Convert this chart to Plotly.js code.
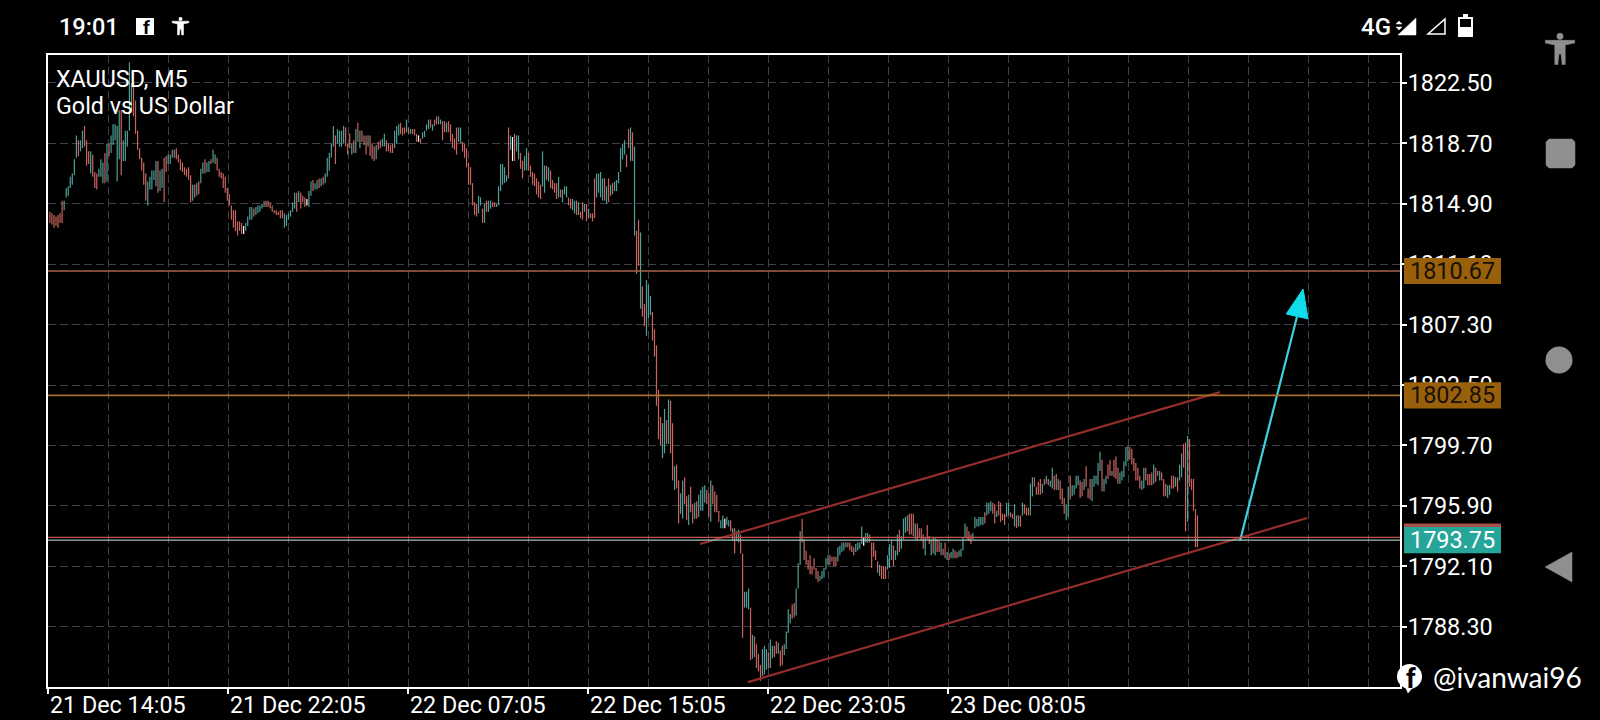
<!DOCTYPE html>
<html><head><meta charset="utf-8">
<script src="https://cdn.plot.ly/plotly-3.0.1.min.js"></script>
<style>html,body{margin:0;padding:0;background:#000}#c{width:1600px;height:720px}</style>
</head><body><div id="c"></div>
<script>
// Bars in five stretches: high, low, direction (u up, d down, w doji)
const hiA=[1814.4,1814.3,1814.2,1814.1,1814.2,1814.3,1815.1,1815.1,1815.9,1816.0,
1816.6,1816.8,1817.7,1819.2,1818.9,1818.9,1819.5,1819.8,1818.9,1818.2,
1818.2,1818.0,1816.9,1816.8,1817.1,1817.7,1817.5,1818.1,1818.7,1818.7,
1819.2,1819.9,1819.9,1819.8,1820.8,1820.8,1818.9,1819.5,1819.5,1823.8,
1822.5,1822.5,1821.4,1819.5,1818.4,1817.8,1817.5,1816.8,1816.3,1816.6,
1817.0,1817.0,1817.6,1817.6,1817.0,1817.1,1817.8,1817.9,1818.0,1818.0,
1818.3,1818.3,1818.4,1818.0,1817.7,1817.5,1817.2,1817.1,1817.2,1816.7,
1816.1,1816.1,1816.2,1816.3,1817.1,1817.5,1817.7,1817.5,1817.6,1817.7,
1818.3,1818.0,1817.8,1817.1,1816.9,1816.8,1816.6,1815.9,1815.5,1814.8,
1814.5,1814.5,1813.8,1813.8,1813.7,1813.5,1813.7,1814.1,1814.7,1814.7,
1814.6,1814.7,1814.8,1814.8,1814.9,1815.1,1815.1,1815.1,1815.0,1814.8,
1814.5,1814.5,1814.4,1814.5,1814.5,1814.3,1814.2,1814.3,1814.5,1815.0,
1815.6,1815.6,1815.7,1815.6,1815.4,1815.3,1815.2,1815.7,1816.3,1816.4,
1816.2,1816.4,1816.5,1816.5,1816.6,1816.8,1817.8,1818.1,1818.7,1819.8,
1819.2,1819.6,1819.5,1819.5,1819.8,1819.7,1818.7,1819.3,1818.7,1818.9,
1819.6,1820.0,1819.5,1819.5,1819.2,1819.2,1819.2,1819.2,1818.7,1818.5,
1818.6,1818.8,1818.9,1819.0,1819.3,1818.9,1818.7,1818.6,1818.7,1819.5,
1819.8,1819.9];
const loA=[1813.7,1813.6,1813.4,1813.5,1813.4,1813.7,1813.7,1814.5,1815.3,1815.4,
1815.9,1816.1,1816.7,1817.8,1817.9,1818.2,1818.4,1818.5,1817.3,1817.4,
1816.8,1816.6,1815.9,1815.8,1816.6,1816.6,1816.2,1816.2,1816.3,1817.9,
1818.1,1818.6,1818.9,1816.3,1817.7,1816.7,1817.6,1817.6,1818.5,1819.5,
1820.8,1820.4,1819.3,1818.3,1817.7,1817.0,1816.1,1815.1,1814.8,1815.8,
1815.8,1816.4,1816.0,1815.6,1815.7,1815.9,1815.0,1816.9,1817.4,1817.4,
1817.8,1817.8,1817.7,1817.5,1817.0,1816.9,1816.7,1816.6,1816.4,1815.0,
1815.1,1815.3,1815.4,1815.5,1816.2,1816.8,1816.8,1816.9,1816.9,1817.4,
1817.5,1817.4,1817.0,1816.6,1816.5,1815.9,1815.6,1815.1,1814.8,1813.9,
1813.4,1813.2,1812.9,1813.2,1813.0,1813.0,1813.2,1813.5,1813.9,1813.9,
1814.1,1814.2,1814.3,1814.4,1814.6,1814.7,1814.7,1814.7,1814.6,1814.4,
1814.3,1814.2,1814.2,1814.0,1814.0,1813.4,1813.5,1813.9,1814.1,1814.4,
1814.6,1814.4,1815.0,1814.6,1815.0,1814.7,1814.8,1814.7,1815.4,1815.7,
1815.8,1815.8,1815.9,1816.0,1816.1,1816.2,1816.6,1817.0,1817.8,1818.5,
1817.4,1818.7,1818.5,1818.5,1818.7,1818.5,1818.0,1818.4,1818.0,1818.1,
1818.1,1818.8,1818.4,1818.8,1818.6,1818.0,1818.5,1817.9,1817.7,1817.6,
1817.7,1818.3,1818.4,1818.5,1818.5,1818.2,1818.2,1818.1,1818.1,1818.4,
1818.7,1819.2];
const dirA="ddddd dduuu uuuud uuddd udddu uudud uuuuu duuuu uddddddduu uuudu udduu duddd ddddd ududu uduud uuddd ddddd ddddd wuuuu duuuu udddd ddddd uuuuu ududd dwuud uudud uuuuu duuuu dddud ududd duddd uddu uddddu uu";
const hiB=[1820.0,1819.7,1819.7,1820.2,1819.7,1819.6,1819.6,1819.6,1819.3,1819.2,
1819.0,1819.4,1819.5,1819.9,1820.2,1820.2,1819.9,1820.2,1820.4,1820.4,
1820.2,1820.1,1820.1,1820.0,1820.1,1819.9,1819.3,1819.0,1819.7,1819.7,
1819.7,1818.8,1818.7,1818.4,1817.5,1817.2,1816.2,1815.0,1814.9,1815.4,
1815.3,1814.6,1814.9,1815.1,1815.1,1815.1,1815.0,1815.0,1814.9,1816.0,
1817.4,1817.4,1817.2,1816.7,1819.7,1819.2,1819.1,1819.3,1819.2,1819.2,
1818.1,1817.6,1817.9,1818.4,1818.1,1817.3,1816.9,1816.8,1816.5,1816.3,
1816.1,1818.2,1817.3,1817.3,1817.2,1817.0,1816.4,1816.2,1816.2,1816.6,
1815.8,1815.8,1816.0,1816.0,1815.3,1815.2,1815.2,1815.1,1815.1,1815.0,
1814.4,1815.0,1814.9,1814.9,1814.6,1814.3,1814.3,1816.5,1816.8,1816.8,
1816.9,1816.5,1816.5,1816.0,1816.5,1816.1,1816.2,1816.3,1816.4,1816.9,
1818.4,1818.7,1818.9,1818.0,1819.6,1819.7,1819.4,1818.5,1813.2,1813.9,
1813.1];
const loB=[1819.3,1819.2,1819.3,1819.4,1819.3,1819.3,1819.3,1819.2,1818.8,1818.8,
1818.7,1819.0,1819.1,1819.5,1819.6,1819.7,1819.5,1819.8,1819.9,1819.9,
1819.9,1818.9,1819.4,1819.4,1819.4,1818.8,1818.4,1818.3,1818.0,1818.8,
1818.7,1818.2,1817.8,1817.2,1816.1,1816.1,1814.8,1814.2,1814.1,1814.3,
1814.8,1813.7,1813.7,1814.4,1814.4,1814.6,1814.7,1814.7,1814.7,1814.8,
1815.7,1816.1,1816.2,1816.3,1816.5,1818.3,1817.6,1817.6,1818.2,1817.7,
1817.1,1816.5,1817.0,1817.0,1817.0,1816.6,1816.1,1816.0,1815.5,1815.3,
1815.2,1816.0,1815.6,1816.4,1816.3,1815.9,1815.8,1815.6,1815.2,1815.3,
1815.3,1815.0,1815.5,1815.3,1814.8,1814.6,1814.5,1814.3,1814.2,1814.2,
1814.0,1813.9,1814.4,1813.8,1814.0,1814.0,1813.8,1814.0,1815.3,1815.6,
1815.3,1815.1,1815.1,1814.9,1815.0,1815.4,1815.5,1815.7,1815.7,1816.2,
1816.9,1817.7,1818.0,1817.2,1818.4,1817.6,1817.6,1812.9,1810.5,1811.0,
1808.3];
const dirB="dddud uddDw duuuu dudDu uddud dddDuu ddddd dddUU dUdUU ddUUU UUUdU wdUUd dUUdd ddddd UUdUd dddUd UUUdd UUdUd dUdUd ddUUU UdUdU dUUUU UUddU dUddU d";
const hiC=[1809.7,1808.6,1810.1,1809.8,1809.1,1808.1,1807.0,1806.0,1803.2,1801.5,
1801.1,1802.0,1801.3,1802.6,1802.5,1801.1,1798.4,1798.5,1797.5,1796.7,
1797.5,1797.7,1796.5,1796.6,1797.1,1796.0,1796.1,1796.2,1796.6,1796.9,
1797.1,1797.2,1796.9,1796.7,1797.5,1797.2,1796.8,1796.6,1795.6,1795.0,
1795.3,1795.1,1795.2];
const loC=[1807.8,1807.2,1806.6,1807.7,1807.9,1806.3,1805.3,1802.2,1800.1,1799.7,
1798.9,1799.2,1799.8,1799.8,1799.2,1797.5,1796.9,1797.0,1794.8,1795.4,
1795.1,1796.0,1795.0,1794.7,1795.5,1794.8,1795.1,1795.1,1795.2,1795.6,
1795.6,1796.1,1796.0,1795.2,1794.9,1796.0,1795.5,1795.5,1794.9,1794.5,
1794.5,1794.5,1794.7];
const dirC="dduuu ddddd uudud duddu uddud duduu uuddu ddddu uwu";
const hiD=[1795.0,1795.0,1794.5,1794.5,1794.3,1794.4,1794.1,1792.9,1790.5,1790.5,
1790.7,1789.5,1787.8,1787.7,1787.2,1786.6,1785.9,1786.9,1787.1,1786.9,
1786.7,1787.5,1787.1,1787.1,1787.4,1787.3,1786.8,1787.1,1787.2,1788.0,
1789.4,1789.1,1789.7,1789.8,1790.7,1792.3,1794.3,1795.1,1793.8,1793.1,
1792.5,1792.8,1792.1,1792.6,1792.0,1791.8,1791.5,1791.8,1792.0,1792.6,
1792.8,1792.8,1792.7,1792.7,1792.7,1793.3,1793.4,1793.6,1793.6,1793.6,
1793.6,1793.6,1793.4,1793.3,1793.5,1793.6,1793.6,1794.6,1793.9,1794.2,
1794.2,1794.1,1793.6,1793.6,1793.1,1792.4,1792.2,1792.1,1792.1,1792.1,
1792.8,1793.5,1793.7,1793.4,1793.1,1794.1,1794.4,1794.0,1795.1,1795.2,
1795.3,1795.4,1795.4,1795.4,1794.8,1794.8,1794.5,1794.5,1794.1,1793.9,
1794.7,1794.0,1793.8,1793.9,1793.9,1793.8,1793.7,1793.6,1793.2,1793.6,
1793.0,1792.9,1793.0,1793.2,1793.1,1793.0,1793.1,1793.2,1793.9,1794.8,
1794.6,1794.3,1794.1,1794.2,1795.2,1795.1,1795.2,1795.2,1795.2,1795.5,
1796.1,1796.1,1796.2,1796.1,1796.0,1795.6,1796.2];
const loD=[1794.6,1794.3,1793.7,1792.9,1793.7,1793.6,1792.9,1787.6,1789.5,1789.5,
1789.4,1786.2,1786.3,1786.4,1785.7,1785.5,1784.9,1785.2,1785.3,1785.6,
1785.7,1785.7,1786.3,1786.4,1786.6,1786.6,1785.8,1785.9,1786.5,1786.9,
1787.9,1788.5,1788.8,1788.9,1789.0,1790.7,1792.2,1793.6,1792.5,1792.2,
1791.9,1791.6,1791.6,1791.9,1791.3,1791.1,1791.2,1791.3,1791.4,1791.9,
1792.2,1792.2,1792.4,1792.1,1792.1,1792.4,1792.8,1793.0,1793.1,1793.3,
1793.3,1793.1,1793.0,1792.8,1793.0,1793.1,1793.2,1793.5,1793.4,1793.6,
1793.6,1793.6,1792.0,1792.7,1792.5,1791.7,1791.5,1791.3,1791.3,1791.3,
1791.9,1792.0,1792.5,1792.1,1792.5,1792.8,1793.0,1793.2,1793.8,1794.2,
1794.3,1794.1,1794.1,1794.0,1793.8,1793.7,1793.9,1793.7,1793.2,1792.8,
1793.8,1793.5,1792.8,1792.9,1792.8,1793.0,1793.0,1792.8,1792.8,1792.6,
1792.5,1792.5,1792.6,1792.6,1792.6,1792.6,1792.7,1792.7,1793.1,1793.9,
1793.8,1793.7,1793.5,1793.8,1794.5,1794.6,1794.6,1794.7,1794.7,1794.8,
1795.3,1795.4,1795.6,1795.4,1794.8,1795.2,1795.3];
const dirD="ududu uddUU ududd ddUUU dUUdd UddUU UUddU UUddd ddddd dUUUU Udddd UUUUU ddddU UUUwU Udddd dUddd UUUdU UdUUU UdddU ddddU ddUdU ddUdd UdUUd dUUUU dddUU UUUUd UUUdd Ud";
const hiE=[1796.1,1795.4,1795.4,1796.1,1796.1,1795.5,1795.4,1796.0,1795.3,1795.3,
1795.3,1796.1,1796.0,1795.8,1795.8,1797.3,1797.7,1797.7,1797.1,1797.4,
1797.6,1797.3,1797.6,1797.8,1797.6,1797.5,1798.3,1797.8,1797.9,1797.6,
1797.5,1797.0,1796.4,1796.0,1797.1,1797.8,1797.2,1797.2,1797.8,1797.8,
1797.5,1797.4,1797.6,1798.4,1797.0,1797.6,1797.6,1797.8,1797.8,1798.6,
1799.3,1798.8,1797.6,1797.8,1798.5,1798.8,1798.1,1798.8,1799.0,1798.3,
1798.0,1798.1,1798.7,1799.6,1799.7,1799.6,1799.5,1798.9,1798.6,1798.3,
1797.8,1797.5,1798.3,1798.3,1797.9,1797.9,1798.0,1798.5,1798.3,1798.1,
1798.1,1798.0,1797.6,1797.3,1797.2,1797.2,1797.8,1797.8,1797.7,1797.7,
1798.5,1799.2,1799.8,1799.9,1800.3,1800.1,1797.6,1797.6,1795.7,1795.3];
const loE=[1794.9,1795.0,1794.7,1795.2,1795.3,1795.2,1795.1,1794.6,1794.5,1794.6,
1794.6,1795.3,1795.4,1795.3,1795.3,1795.3,1796.5,1797.1,1796.6,1796.6,
1796.6,1796.7,1797.2,1797.3,1797.2,1797.1,1797.0,1796.9,1796.9,1796.9,
1796.3,1796.0,1795.4,1795.0,1795.2,1796.3,1796.5,1796.6,1797.0,1797.2,
1796.4,1796.5,1796.9,1797.1,1796.4,1796.3,1796.2,1797.1,1797.3,1797.2,
1798.1,1796.8,1796.8,1797.3,1797.6,1797.8,1797.8,1797.7,1797.6,1797.3,
1797.3,1797.5,1797.7,1798.4,1798.7,1798.8,1798.5,1798.1,1797.5,1797.5,
1797.0,1796.9,1797.0,1797.5,1797.2,1797.2,1797.2,1797.3,1797.4,1797.8,
1797.5,1797.5,1796.5,1796.5,1796.4,1796.6,1797.0,1797.0,1797.1,1796.8,
1797.5,1797.7,1798.3,1794.3,1794.9,1797.1,1796.9,1795.6,1793.3,1793.3];
const dirE="ddduu ddudu duddd uuddd dudud uuddu ddduu duuuu ddudd duuuu uduud duddd uuuuu ddddd duudd ddudd udddu uddud uuddu ddddd";

const tickBars=[0,96,192,288,384,480];
const tickText=["21 Dec 14:05","21 Dec 22:05","22 Dec 07:05","22 Dec 15:05","22 Dec 23:05","23 Dec 08:05"];
const priceTicks=[1822.5,1818.7,1814.9,1811.1,1807.3,1803.5,1799.7,1795.9,1792.1,1788.3];
const levels=[1810.67,1802.85,1793.75,1793.92];
const levelColors=["#a5634a","#a8702c","#9fc4bc","#c2554e"];
const channelUpX=[347.7,625],channelUpY=[1793.5,1803.06];
const channelLoX=[373.3,671.5],channelLoY=[1784.82,1795.14];
const arrowX=[635.7,666.1],arrowY=[1793.71,1807.81];
const headX=[669.3,660.3,672,669.3],headY=[1809.54,1807.97,1807.66,1809.54];

const stretches=[[hiA,loA,dirA,1,187],[hiB,loB,dirB,188,316],[hiC,loC,dirC,317,362],[hiD,loD,dirD,363,507],[hiE,loE,dirE,508,613]];
const C={x:[],o:[],h:[],l:[],c:[]},W={x:[],o:[],h:[],l:[],c:[]};
stretches.forEach(([hi,lo,dir,a,b])=>{
  const ds=dir.toLowerCase().replace(/\s/g,'');
  hi.forEach((h,i)=>{
    const d=ds[i]||'d',t=d==='w'?W:C,x=a+i*(b-a)/(hi.length-1);
    t.x.push(x);t.h.push(h);t.l.push(lo[i]);
    t.o.push(d==='u'?lo[i]:h);t.c.push(d==='u'?h:lo[i]);
  });
});
const bars=(t,up,dn)=>({type:'ohlc',x:t.x,open:t.o,high:t.h,low:t.l,close:t.c,tickwidth:0,hoverinfo:'skip',showlegend:false,
  increasing:{line:{color:up,width:1.2}},decreasing:{line:{color:dn,width:1.2}}});
const ln=(x,y,color,width)=>({type:'scatter',mode:'lines',x,y,line:{color,width},hoverinfo:'skip',showlegend:false});

const traces=[bars(C,'#4f9e97','#c9655e'),bars(W,'#ffffff','#ffffff'),
  ln(channelUpX,channelUpY,'#952e2b',2.2),ln(channelLoX,channelLoY,'#952e2b',2.2),ln(arrowX,arrowY,'#3fd0e0',2.2),
  {type:'scatter',mode:'lines',x:headX,y:headY,fill:'toself',fillcolor:'#10dcec',line:{color:'#10dcec',width:1},hoverinfo:'skip',showlegend:false}];

// screen furniture placed in window pixels
const PX=x=>(x-48)/1352,PY=y=>1-(y-55)/632;
const poly=(pts,fill,line)=>({type:'path',xref:'paper',yref:'paper',path:'M'+pts.map(p=>PX(p[0])+' '+PY(p[1])).join(' L')+' Z',fillcolor:fill||'rgba(0,0,0,0)',line:{color:line||fill,width:line?1.5:0.5}});
const box=(x0,y0,x1,y1,fill)=>({type:'rect',xref:'paper',yref:'paper',x0:PX(x0),x1:PX(x1),y0:PY(y0),y1:PY(y1),fillcolor:fill,line:{color:fill,width:0}});
const ring=(x0,y0,x1,y1,fill)=>({type:'circle',xref:'paper',yref:'paper',x0:PX(x0),x1:PX(x1),y0:PY(y0),y1:PY(y1),fillcolor:fill,line:{color:fill,width:0}});
const person=(cx,top,c,k)=>[ring(cx-3.2*k,top,cx+3.2*k,top+6.4*k,c),
  poly([[cx-14*k,top+7*k],[cx+14*k,top+7*k],[cx+14*k,top+9.5*k],[cx+5*k,top+11.5*k],[cx+5*k,top+30*k],[cx+2*k,top+30*k],[cx+1*k,top+20*k],[cx-1*k,top+20*k],[cx-2*k,top+30*k],[cx-5*k,top+30*k],[cx-5*k,top+11.5*k],[cx-14*k,top+9.5*k]],c)];
const lvlBox=(p,fill)=>({type:'rect',xref:'paper',yref:'y',x0:PX(1404),x1:PX(1501),y0:p-0.82,y1:p+0.82,fillcolor:fill,line:{width:0}});

const shapes=[
  ...levels.map((p,i)=>({type:'line',xref:'paper',yref:'y',x0:0,x1:1,y0:p,y1:p,line:{color:levelColors[i],width:i<2?1.6:1.1}})),
  {type:'rect',xref:'paper',yref:'y',x0:PX(1404),x1:PX(1501),y0:1794.5,y1:1794.8,fillcolor:'#a8504a',line:{width:0}},
  lvlBox(1810.67,'#98600a'),lvlBox(1802.85,'#98600a'),lvlBox(1793.75,'#26a69a'),
  box(136,18,154,35,'#ffffff'),
  ...person(180.5,17,'#ffffff',0.6),
  poly([[1416,18],[1416,35],[1398,35]],'#ffffff'),
  poly([[1445,19],[1445,34],[1428,34]],null,'#ffffff'),
  box(1458,17,1473,37,'#ffffff'),box(1463,14,1468,17,'#ffffff'),
  box(1460,19,1471,27,'#000000'),
  poly([[1396,24],[1399,21],[1402,24]],'#ffffff'),poly([[1396,27],[1399,30],[1402,27]],'#ffffff'),
  ...person(1560,33,'#8f8f8f',1.05),
  poly([[1549,139],[1572,139],[1575,142],[1575,165],[1572,168],[1549,168],[1546,165],[1546,142]],'#8f8f8f'),
  ring(1545.5,346.5,1572.5,373.5,'#8f8f8f'),
  poly([[1572,552],[1572,582],[1545,567]],'#8f8f8f'),
  ring(1397,664,1422,689,'#ffffff'),poly([[1405,686],[1414,686],[1408,693]],'#ffffff')
];
const T=(x,y,text,size,opt)=>Object.assign({xref:'paper',yref:'paper',x:PX(x),y:PY(y),text,showarrow:false,xanchor:'left',yanchor:'middle',borderpad:0,font:{family:'Roboto',size,color:'#ffffff'}},opt||{});
const lvlText=(p,text,color)=>({xref:'paper',yref:'y',x:PX(1452.5),y:p,text,showarrow:false,xanchor:'center',yanchor:'middle',font:{family:'Roboto',size:23.4,color}});
const annotations=[
  T(55,79,'XAUUSD, M5',23.3),T(55,106,'Gold vs US Dollar',23.3),
  T(58,27,'19:01',23.5,{font:{family:'Roboto',size:23.5,color:'#ffffff',weight:500}}),
  T(1360,27,'4G',24,{font:{family:'Roboto',size:24,color:'#ffffff',weight:500}}),
  T(1432,677,'@ivanwai96',28,{font:{family:'Lato',size:28,color:'#ffffff'}}),
  {xref:'paper',yref:'paper',x:PX(146),y:PY(28),text:'<b>f</b>',showarrow:false,xanchor:'center',yanchor:'middle',font:{family:'Roboto',size:19,color:'#000000'}},
  {xref:'paper',yref:'paper',x:PX(1410.5),y:PY(679),text:'<b>f</b>',showarrow:false,xanchor:'center',yanchor:'middle',font:{family:'Roboto',size:27,color:'#000000'}},
  lvlText(1810.67,'1810.67','#1a1005'),lvlText(1802.85,'1802.85','#1a1005'),lvlText(1793.75,'1793.75','#ffffff')
];
const grid='#40404a',dash='8px,4px';
const layout={width:1600,height:720,paper_bgcolor:'#000',plot_bgcolor:'#000',showlegend:false,
  margin:{l:48,r:200,t:55,b:33,pad:0},font:{family:'Roboto',color:'#fff'},
  xaxis:{type:'linear',range:[0,721],rangeslider:{visible:false},tickmode:'array',tickvals:tickBars,ticktext:tickText,
    ticks:'outside',ticklen:5,tickwidth:2,tickcolor:'#fff',ticklabelposition:'outside right',ticklabelstandoff:-4,tickfont:{family:'Roboto',size:23.3,color:'#fff'},
    showline:true,linecolor:'#fff',linewidth:2,mirror:true,zeroline:false,showgrid:true,gridcolor:grid,griddash:dash,gridwidth:1,
    minor:{tickmode:'linear',tick0:0,dtick:32,showgrid:true,gridcolor:grid,griddash:dash,gridwidth:1,ticks:''}},
  yaxis:{type:'linear',side:'right',range:[1784.51,1824.26],tickmode:'array',tickvals:priceTicks,ticktext:priceTicks.map(v=>v.toFixed(2)),
    ticks:'outside',ticklen:5,tickwidth:2,tickcolor:'#fff',ticklabelstandoff:-4,tickfont:{family:'Roboto',size:23.4,color:'#fff'},
    showline:true,linecolor:'#fff',linewidth:2,mirror:true,zeroline:false,showgrid:true,gridcolor:grid,griddash:dash,gridwidth:1},
  shapes,annotations};
Plotly.newPlot('c',traces,layout,{displayModeBar:false,staticPlot:true});
</script>
</body></html>
